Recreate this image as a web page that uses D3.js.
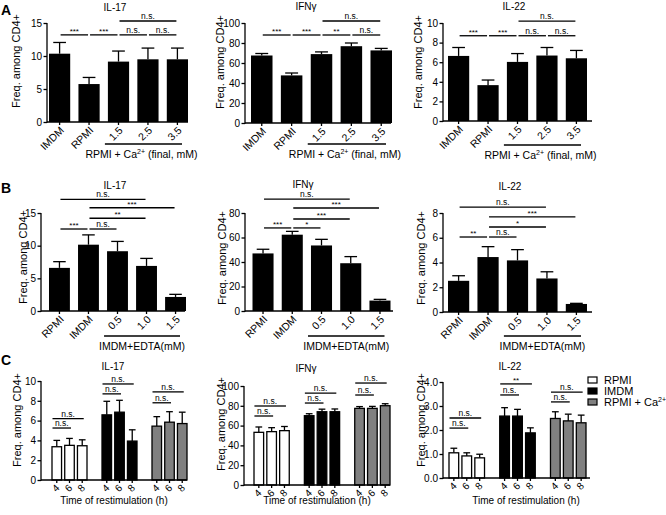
<!DOCTYPE html>
<html><head><meta charset="utf-8">
<script src="https://cdn.jsdelivr.net/npm/d3@7"></script>
<style>
body{margin:0;background:#fff}
svg text{font-family:"Liberation Sans",Arial,Helvetica,sans-serif;fill:#000}
</style>
</head><body>
<svg id="c" width="666" height="515"></svg>
<script>
// ---------------- DATA ----------------
const catA = ["IMDM", "RPMI", "1.5", "2.5", "3.5"];
const il17A = [10.35, 5.75, 9.15, 9.5, 9.5];
const il17AErr = [1.7, 1.0, 1.6, 1.7, 1.7];
const ifngA = [67.5, 47.6, 68.9, 76.8, 72.6];
const ifngAErr = [2.0, 2.4, 2.2, 3.2, 2.0];
const il22A = [6.64, 3.66, 6.03, 6.68, 6.4];
const il22AErr = [0.86, 0.52, 0.85, 0.82, 0.8];
// brackets: [from, to, label, level]
const sigA17 = [["IMDM","RPMI","***",0],["RPMI","1.5","***",0],["1.5","2.5","n.s.",0],["2.5","3.5","n.s.",0],["1.5","3.5","n.s.",1]];
const sigAIfng = [["IMDM","RPMI","***",0],["RPMI","1.5","***",0],["1.5","2.5","**",0],["2.5","3.5","n.s.",0],["1.5","3.5","n.s.",1]];
const sigA22 = [["IMDM","RPMI","***",0],["RPMI","1.5","***",0],["1.5","2.5","n.s.",0],["2.5","3.5","n.s.",0],["1.5","3.5","n.s.",1]];

const catB = ["RPMI", "IMDM", "0.5", "1.0", "1.5"];
const il17B = [6.6, 10.15, 9.15, 6.9, 2.15];
const il17BErr = [0.95, 1.5, 1.5, 1.15, 0.4];
const ifngB = [47, 62.3, 53.5, 39, 8.5];
const ifngBErr = [3.4, 2.7, 5.0, 5.4, 1.0];
const il22B = [2.52, 4.44, 4.17, 2.71, 0.65];
const il22BErr = [0.41, 0.84, 0.87, 0.54, 0.05];
const sigB17 = [["RPMI","IMDM","***",0],["IMDM","0.5","n.s.",0],["IMDM","1.0","**",1],["IMDM","1.5","***",2],["RPMI","1.0","n.s.",3]];
const sigBIfng = [["RPMI","IMDM","***",0],["IMDM","0.5","*",0],["IMDM","1.0","***",1],["IMDM","1.5","***",2],["RPMI","1.0","n.s.",3]];
const sigB22 = [["RPMI","IMDM","**",0],["IMDM","0.5","n.s.",0],["IMDM","1.0","*",1],["IMDM","1.5","***",2],["RPMI","1.0","n.s.",3]];

const groupsC = ["RPMI", "IMDM", "RPMI + Ca2+"];
const timesC = ["4", "6", "8"];
const il17C = [[3.36, 3.5, 3.46], [6.58, 6.85, 3.93], [5.44, 5.84, 5.7]];
const il17CErr = [[0.64, 0.7, 0.6], [1.37, 1.2, 1.14], [0.96, 1.06, 1.15]];
const ifngC = [[53.2, 53.9, 54.9], [70, 74, 74], [77.4, 77.4, 80.1]];
const ifngCErr = [[5.4, 4.0, 4.2], [2.0, 2.6, 2.8], [1.8, 2.0, 2.0]];
const il22C = [[1.05, 0.92, 0.84], [2.58, 2.58, 1.88], [2.48, 2.38, 2.3]];
const il22CErr = [[0.19, 0.13, 0.15], [0.35, 0.28, 0.21], [0.28, 0.28, 0.32]];
// brackets C: [group, fromTime, toTime, label, level]
const sigC17 = [["RPMI","4","6","n.s.",0],["RPMI","4","8","n.s.",1],["IMDM","4","6","n.s.",0],["IMDM","4","8","n.s.",1],["RPMI + Ca2+","4","6","n.s.",0],["RPMI + Ca2+","4","8","n.s.",1]];
const sigCIfng = [["RPMI","4","6","n.s.",0],["RPMI","4","8","n.s.",1],["IMDM","4","6","n.s.",0],["IMDM","4","8","n.s.",1],["RPMI + Ca2+","4","6","n.s.",0],["RPMI + Ca2+","4","8","n.s.",1]];
const sigC22 = [["RPMI","4","6","n.s.",0],["RPMI","4","8","n.s.",1],["IMDM","4","6","n.s.",0],["IMDM","4","8","**",1],["RPMI + Ca2+","4","6","n.s.",0],["RPMI + Ca2+","4","8","n.s.",1]];

const fillsC = ["#ffffff", "#000000", "#808080"];

// ---------------- DRAWING ----------------
const svg = d3.select("#c");
const SW = 1.3;

function styleAxis(a, fs) {
  a.selectAll("path,line").attr("stroke", "#000").attr("stroke-width", SW);
  a.selectAll("text").attr("font-size", fs).attr("font-family", null).attr("fill", "#000");
}

function yAxisDraw(g, y, cfg) {
  const a = g.append("g").attr("transform", `translate(${cfg.axisX},0)`)
    .call(d3.axisLeft(y).tickValues(cfg.ticks).tickSize(3.5).tickSizeOuter(0).tickPadding(1.5));
  styleAxis(a, 10);
  a.select(".domain").attr("d", `M0,${y(0) + SW / 2}V${y(cfg.max)}`);
}

function yLabel(g, cfg) {
  g.append("text").attr("transform", `translate(${cfg.ylab[0]},${cfg.ylab[1]}) rotate(-90)`)
    .attr("text-anchor", "middle").attr("font-size", 11).text("Freq. among CD4+");
}

function title(g, cfg) {
  g.append("text").attr("x", cfg.title[0]).attr("y", cfg.title[1]).attr("text-anchor", "middle")
    .attr("font-size", 10).text(cfg.name);
}

function sigLabel(g, x, yy, lab) {
  const star = lab.indexOf("*") >= 0;
  g.append("text").attr("x", x).attr("y", star ? yy - 1.2 : yy - 2).attr("text-anchor", "middle")
    .attr("font-size", star ? 8 : 8.5).text(lab);
}

function barPanel(cfg) {
  const g = svg.append("g");
  const x = d3.scaleBand().domain(cfg.cats).range([cfg.barStart, cfg.barEnd]).paddingInner(0.28).paddingOuter(0);
  const y = d3.scaleLinear().domain([0, cfg.max]).range([cfg.y0, cfg.yTop]);
  const bw = x.bandwidth();
  const rows = cfg.cats.map((c, i) => ({c, v: cfg.values[i], e: cfg.errs[i]}));
  g.selectAll("rect.bar").data(rows).join("rect").attr("class", "bar")
    .attr("x", d => x(d.c)).attr("width", bw)
    .attr("y", d => y(d.v)).attr("height", d => y(0) - y(d.v)).attr("fill", "#000");
  const eg = g.selectAll("g.err").data(rows).join("g").attr("class", "err")
    .attr("stroke", "#000").attr("stroke-width", SW);
  eg.append("line").attr("x1", d => x(d.c) + bw / 2).attr("x2", d => x(d.c) + bw / 2)
    .attr("y1", d => y(d.v)).attr("y2", d => y(d.v + d.e));
  eg.append("line").attr("x1", d => x(d.c) + bw * 0.2).attr("x2", d => x(d.c) + bw * 0.8)
    .attr("y1", d => y(d.v + d.e)).attr("y2", d => y(d.v + d.e));
  yAxisDraw(g, y, cfg);
  g.append("line").attr("x1", cfg.axisX).attr("x2", cfg.axisEnd).attr("y1", y(0)).attr("y2", y(0))
    .attr("stroke", "#000").attr("stroke-width", SW);
  const xa = g.append("g").attr("transform", `translate(0,${y(0)})`)
    .call(d3.axisBottom(x).tickSize(3).tickSizeOuter(0));
  xa.select(".domain").remove();
  styleAxis(xa, 10.5);
  xa.selectAll("text").attr("x", 0).attr("y", 0).attr("dy", 0).attr("text-anchor", "end")
    .attr("transform", "translate(5,9) rotate(-45)");
  // group line + label
  const gx1 = x(cfg.grp[0]) - 3, gx2 = x(cfg.grp[1]) + bw - 6;
  g.append("line").attr("x1", gx1).attr("x2", gx2).attr("y1", cfg.grpY).attr("y2", cfg.grpY)
    .attr("stroke", "#000").attr("stroke-width", SW);
  const lt = g.append("text").attr("x", (gx1 + gx2) / 2 + (cfg.grpDx || 0)).attr("y", cfg.grpY + 14)
    .attr("text-anchor", "middle").attr("font-size", 10.5);
  cfg.grpLabel(lt);
  // brackets
  cfg.sig.forEach(s => {
    const x1 = x(s[0]) + bw / 2 + 1, x2 = x(s[1]) + bw / 2 - 1;
    const yy = y(cfg.levels[s[3]]);
    g.append("line").attr("x1", x1).attr("x2", x2).attr("y1", yy).attr("y2", yy)
      .attr("stroke", "#000").attr("stroke-width", SW);
    sigLabel(g, (x1 + x2) / 2, yy, s[2]);
  });
  yLabel(g, cfg);
  title(g, cfg);
}

function groupPanel(cfg) {
  const g = svg.append("g");
  const xg = d3.scaleBand().domain(groupsC).range(cfg.barRange).paddingInner(0.3).paddingOuter(0);
  const xi = d3.scaleBand().domain(timesC).range([0, xg.bandwidth()]).paddingInner(0.25);
  const y = d3.scaleLinear().domain([0, cfg.max]).range([cfg.y0, cfg.yTop]);
  const bw = xi.bandwidth();
  const rows = [];
  groupsC.forEach((gr, gi) => timesC.forEach((t, ti) => rows.push({gr, gi, t, v: cfg.values[gi][ti], e: cfg.errs[gi][ti]})));
  const bx = d => xg(d.gr) + xi(d.t);
  const eg = g.selectAll("g.err").data(rows).join("g").attr("class", "err")
    .attr("stroke", "#000").attr("stroke-width", SW);
  eg.append("line").attr("x1", d => bx(d) + bw / 2).attr("x2", d => bx(d) + bw / 2)
    .attr("y1", d => y(d.v)).attr("y2", d => y(d.v + d.e));
  eg.append("line").attr("x1", d => bx(d) + bw * 0.15).attr("x2", d => bx(d) + bw * 0.85)
    .attr("y1", d => y(d.v + d.e)).attr("y2", d => y(d.v + d.e));
  g.selectAll("rect.bar").data(rows).join("rect").attr("class", "bar")
    .attr("x", bx).attr("width", bw)
    .attr("y", d => y(d.v)).attr("height", d => y(0) - y(d.v))
    .attr("fill", d => fillsC[d.gi]).attr("stroke", "#000").attr("stroke-width", SW);
  yAxisDraw(g, y, cfg);
  g.append("line").attr("x1", cfg.axisX).attr("x2", cfg.axisEnd).attr("y1", y(0)).attr("y2", y(0))
    .attr("stroke", "#000").attr("stroke-width", SW);
  // ticks per bar
  groupsC.forEach(gr => {
    const sub = d3.scaleBand().domain(timesC).range([xg(gr), xg(gr) + xg.bandwidth()]).paddingInner(0.25);
    const xa = g.append("g").attr("transform", `translate(0,${y(0)})`)
      .call(d3.axisBottom(sub).tickSize(3).tickSizeOuter(0));
    xa.select(".domain").remove();
    styleAxis(xa, 10);
    xa.selectAll("text").attr("x", 0).attr("y", 0).attr("dy", 0).attr("text-anchor", "end")
      .attr("transform", "translate(3.5,8.5) rotate(-45)");
  });
  g.append("text").attr("x", cfg.xlab[0]).attr("y", cfg.xlab[1]).attr("text-anchor", "middle")
    .attr("font-size", 10).text("Time of restimulation (h)");
  cfg.sig.forEach(s => {
    const gi = groupsC.indexOf(s[0]);
    const x1 = xg(s[0]) + xi(s[1]) + 0.5, x2 = xg(s[0]) + xi(s[2]) + bw / 2 + 1.5;
    const yy = y(cfg.levels[gi][s[4]]);
    g.append("line").attr("x1", x1).attr("x2", x2).attr("y1", yy).attr("y2", yy)
      .attr("stroke", "#000").attr("stroke-width", SW);
    sigLabel(g, (x1 + x2) / 2, yy, s[3]);
  });
  yLabel(g, cfg);
  title(g, cfg);
}

const caLabel = t => { t.append("tspan").text("RPMI + Ca"); t.append("tspan").attr("dy", -4).attr("font-size", 7).text("2+");
  t.append("tspan").attr("dy", 4).text(" (final, mM)"); };
const edtaLabel = t => t.text("IMDM+EDTA(mM)");

// Panel A
barPanel({name: "IL-17", cats: catA, values: il17A, errs: il17AErr, sig: sigA17, levels: [13.2, 15.3],
  axisX: 47, barStart: 49, barEnd: 188, axisEnd: 188, y0: 122, yTop: 23, max: 15, ticks: [0, 5, 10, 15],
  title: [115, 11], ylab: [20, 61], grp: ["1.5", "3.5"], grpY: 144, grpLabel: caLabel, grpDx: -2});
barPanel({name: "IFNγ", cats: catA, values: ifngA, errs: ifngAErr, sig: sigAIfng, levels: [88, 102],
  axisX: 245, barStart: 251, barEnd: 392, axisEnd: 391, y0: 123, yTop: 23, max: 100, ticks: d3.range(0, 101, 20),
  title: [306, 10], ylab: [224, 62], grp: ["1.5", "3.5"], grpY: 144, grpLabel: caLabel, grpDx: -2});
barPanel({name: "IL-22", cats: catA, values: il22A, errs: il22AErr, sig: sigA22, levels: [8.7, 10.2],
  axisX: 443, barStart: 448, barEnd: 587, axisEnd: 592, y0: 121, yTop: 23, max: 10, ticks: d3.range(0, 11, 2),
  title: [514, 10], ylab: [422, 62], grp: ["1.5", "3.5"], grpY: 145, grpLabel: caLabel, grpDx: -2});

// Panel B
barPanel({name: "IL-17", cats: catB, values: il17B, errs: il17BErr, sig: sigB17, levels: [12.55, 14.2, 15.8, 17.1],
  axisX: 41, barStart: 49, barEnd: 186, axisEnd: 185, y0: 311, yTop: 213, max: 15, ticks: [0, 5, 10, 15],
  title: [115, 189], ylab: [27, 257], grp: ["0.5", "1.5"], grpY: 336, grpLabel: edtaLabel});
barPanel({name: "IFNγ", cats: catB, values: ifngB, errs: ifngBErr, sig: sigBIfng, levels: [67.8, 75.1, 84.1, 91.4],
  axisX: 245, barStart: 252.5, barEnd: 390.5, axisEnd: 393, y0: 311, yTop: 213, max: 80, ticks: d3.range(0, 81, 20),
  title: [303, 188], ylab: [226, 258], grp: ["0.5", "1.5"], grpY: 336, grpLabel: edtaLabel});
barPanel({name: "IL-22", cats: catB, values: il22B, errs: il22BErr, sig: sigB22, levels: [6.06, 6.87, 7.68, 8.48],
  axisX: 443, barStart: 448, barEnd: 587, axisEnd: 592, y0: 312, yTop: 213, max: 8, ticks: d3.range(0, 9, 2),
  title: [510, 190], ylab: [425, 258], grp: ["0.5", "1.5"], grpY: 336, grpLabel: edtaLabel});

// Panel C
groupPanel({name: "IL-17", values: il17C, errs: il17CErr, sig: sigC17, levels: [[5.25, 6.2], [8.7, 9.7], [7.8, 8.9]],
  axisX: 41, barRange: [52, 187], axisEnd: 187, y0: 480, yTop: 381, max: 10, ticks: d3.range(0, 11, 2),
  title: [113, 370], ylab: [21, 420], xlab: [114, 504]});
groupPanel({name: "IFNγ", values: ifngC, errs: ifngCErr, sig: sigCIfng, levels: [[69.7, 79.8], [82.8, 92.9], [90.9, 103]],
  axisX: 244, barRange: [254, 390], axisEnd: 390, y0: 485, yTop: 386, max: 100, ticks: d3.range(0, 101, 20),
  title: [306, 372], ylab: [225, 424], xlab: [317, 504]});
groupPanel({name: "IL-22", values: il22C, errs: il22CErr, sig: sigC22, levels: [[2.08, 2.5], [3.46, 3.92], [3.17, 3.58]],
  axisX: 443, barRange: [449, 586], axisEnd: 590, y0: 478, yTop: 382, max: 4, ticks: d3.range(0, 5, 1),
  title: [510, 370], ylab: [425, 420], xlab: [526, 504]});

// Panel letters
[["A", 15], ["B", 193], ["C", 365]].forEach(([l, yy]) =>
  svg.append("text").attr("x", 1).attr("y", yy).attr("font-size", 14).attr("font-weight", "bold").text(l));

// Legend
const leg = svg.append("g").attr("transform", "translate(588,377)");
groupsC.forEach((gname, i) => {
  const r = leg.append("g").attr("transform", `translate(0,${i * 11})`);
  r.append("rect").attr("width", 9).attr("height", 6).attr("fill", fillsC[i]).attr("stroke", "#000").attr("stroke-width", 1.2);
  const t = r.append("text").attr("x", 16).attr("y", 7).attr("font-size", 11);
  if (gname.endsWith("2+")) { t.append("tspan").text("RPMI + Ca"); t.append("tspan").attr("dy", -4).attr("font-size", 7).text("2+"); }
  else t.text(gname);
});
</script>
</body></html>
